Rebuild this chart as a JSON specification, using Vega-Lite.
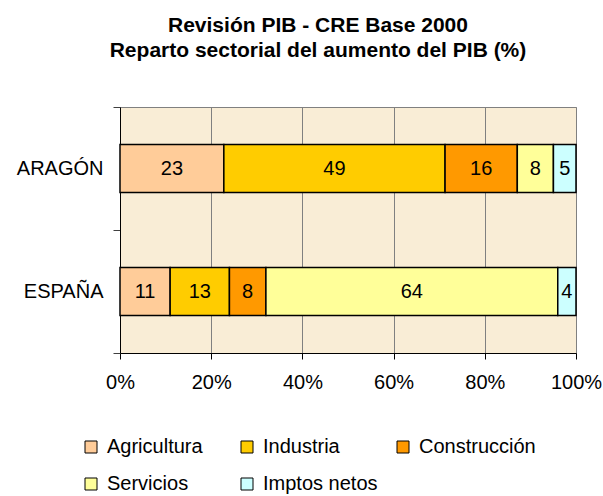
{
  "$schema": "https://vega.github.io/schema/vega-lite/v6.json",
  "width": 456,
  "height": 246,
  "autosize": {"type": "none"},
  "padding": {"left": 120, "top": 107, "right": 27, "bottom": 143},
  "background": "white",
  "title": {
    "text": ["Revisión PIB - CRE Base 2000", "Reparto sectorial del aumento del PIB (%)"],
    "font": "Liberation Sans",
    "fontSize": 21,
    "fontWeight": "bold",
    "lineHeight": 25,
    "offset": 36,
    "dx": -30,
    "anchor": "middle",
    "color": "black"
  },
  "config": {
    "view": {"fill": "#F9EDD6", "stroke": "#808080", "strokeWidth": 1},
    "font": "Liberation Sans"
  },
  "data": {
    "values": [
      {"region": "ARAGÓN", "sector": "Agricultura", "value": 23, "order": 1},
      {"region": "ARAGÓN", "sector": "Industria", "value": 49, "order": 2},
      {"region": "ARAGÓN", "sector": "Construcción", "value": 16, "order": 3},
      {"region": "ARAGÓN", "sector": "Servicios", "value": 8, "order": 4},
      {"region": "ARAGÓN", "sector": "Imptos netos", "value": 5, "order": 5},
      {"region": "ESPAÑA", "sector": "Agricultura", "value": 11, "order": 1},
      {"region": "ESPAÑA", "sector": "Industria", "value": 13, "order": 2},
      {"region": "ESPAÑA", "sector": "Construcción", "value": 8, "order": 3},
      {"region": "ESPAÑA", "sector": "Servicios", "value": 64, "order": 4},
      {"region": "ESPAÑA", "sector": "Imptos netos", "value": 4, "order": 5}
    ]
  },
  "encoding": {
    "y": {
      "field": "region",
      "type": "nominal",
      "sort": ["ARAGÓN", "ESPAÑA"],
      "scale": {"paddingInner": 0, "paddingOuter": 0},
      "axis": {
        "title": null,
        "tickBand": "extent",
        "labelFontSize": 20,
        "labelColor": "black",
        "tickSize": 7,
        "tickColor": "#404040",
        "domainColor": "black",
        "labelPadding": 10,
        "grid": false
      }
    }
  },
  "layer": [
    {
      "mark": {"type": "bar", "size": 48, "stroke": "black", "strokeWidth": 1.5},
      "encoding": {
        "x": {
          "field": "value",
          "type": "quantitative",
          "stack": "normalize",
          "axis": {
            "title": null,
            "format": "%",
            "values": [0, 0.2, 0.4, 0.6, 0.8, 1],
            "grid": true,
            "gridColor": "#808080",
            "tickSize": 6,
            "tickColor": "black",
            "domainColor": "black",
            "labelFontSize": 20,
            "labelColor": "black",
            "labelPadding": 13,
            "labelFlush": false
          }
        },
        "color": {
          "field": "sector",
          "type": "nominal",
          "scale": {
            "domain": ["Agricultura", "Industria", "Construcción", "Servicios", "Imptos netos"],
            "range": ["#FFCC99", "#FFCC00", "#FF9900", "#FFFF99", "#CCFFFF"]
          },
          "legend": {
            "title": null,
            "orient": "none",
            "legendX": -39,
            "legendY": 330,
            "direction": "horizontal",
            "columns": 3,
            "gridAlign": "all",
            "symbolType": "square",
            "symbolSize": 144,
            "symbolStrokeColor": "black",
            "symbolStrokeWidth": 1,
            "symbolOpacity": 1,
            "labelFontSize": 20,
            "labelColor": "black",
            "labelOffset": 6,
            "columnPadding": 13,
            "rowPadding": 17,
            "labelLimit": 300
          }
        },
        "order": {"field": "order"}
      }
    },
    {
      "transform": [
        {"stack": "value", "groupby": ["region"], "sort": [{"field": "order"}], "offset": "normalize", "as": ["s0", "s1"]},
        {"calculate": "(datum.s0 + datum.s1) / 2", "as": "mid"}
      ],
      "mark": {"type": "text", "fontSize": 20, "color": "black", "align": "center", "baseline": "middle"},
      "encoding": {
        "x": {"field": "mid", "type": "quantitative"},
        "text": {"field": "value", "type": "quantitative"}
      }
    }
  ]
}
